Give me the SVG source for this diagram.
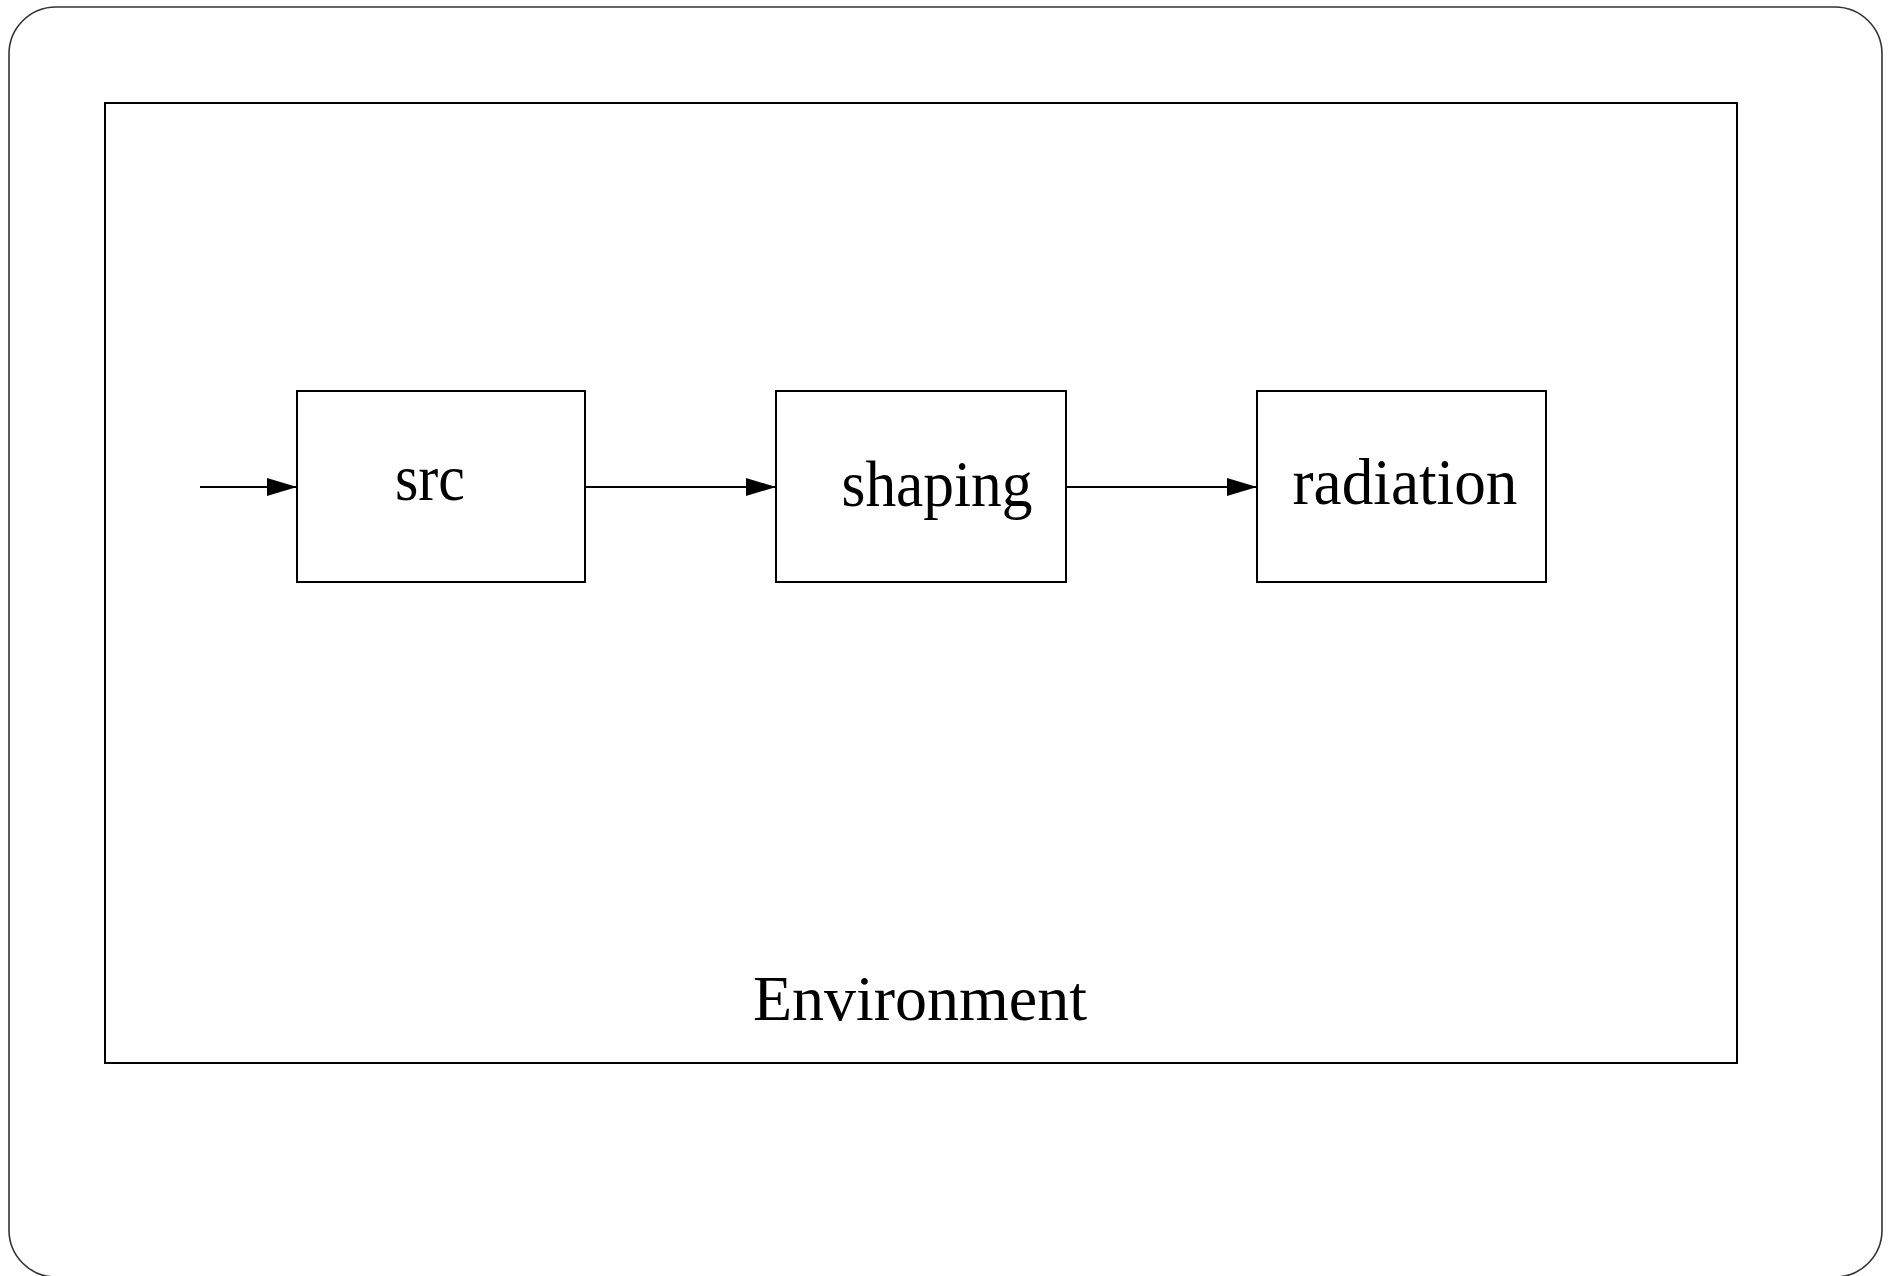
<svg xmlns="http://www.w3.org/2000/svg" width="1893" height="1276" viewBox="0 0 1893 1276">
  <style>
    .frame { fill: none; stroke: #333; stroke-width: 1.6; }
    .env { fill: none; stroke: #000; stroke-width: 2; }
    .box { fill: #fff; stroke: #000; stroke-width: 2; }
    .label { font-family: "Liberation Serif", "Times New Roman", serif; font-size: 66px; fill: #000; }
    .envlabel { font-family: "Liberation Serif", "Times New Roman", serif; font-size: 63px; fill: #000; }
    .wire { fill: none; stroke: #000; stroke-width: 2; }
  </style>
  <defs>
    <marker id="arrow" markerUnits="userSpaceOnUse" markerWidth="30" markerHeight="18" refX="30" refY="9" orient="auto">
      <path d="M0,0 L30,9 L0,18 Z" fill="#000"/>
    </marker>
  </defs>
  <rect width="1893" height="1276" fill="#fff"/>
  <!-- slide frame -->
  <rect class="frame" x="9" y="7" width="1873" height="1270" rx="47" ry="47"/>

  <!-- environment container -->
  <g id="environment">
    <rect class="env" x="105" y="103" width="1632" height="960"/>
    <text class="envlabel" x="920" y="1020" text-anchor="middle" textLength="334" lengthAdjust="spacingAndGlyphs">Environment</text>
  </g>

  <g id="src">
    <rect class="box" x="297" y="391" width="288" height="191"/>
    <text class="label" x="430" y="500" text-anchor="middle" textLength="70" lengthAdjust="spacingAndGlyphs">src</text>
  </g>

  <g id="shaping">
    <rect class="box" x="776" y="391" width="290" height="191"/>
    <text class="label" x="937" y="506" text-anchor="middle" textLength="191" lengthAdjust="spacingAndGlyphs">shaping</text>
  </g>

  <g id="radiation">
    <rect class="box" x="1257" y="391" width="289" height="191"/>
    <text class="label" x="1405" y="504" text-anchor="middle" textLength="225" lengthAdjust="spacingAndGlyphs">radiation</text>
  </g>

  <g id="connectors">
    <line class="wire" x1="200" y1="487" x2="297" y2="487" marker-end="url(#arrow)"/>
    <line class="wire" x1="585" y1="487" x2="776" y2="487" marker-end="url(#arrow)"/>
    <line class="wire" x1="1066" y1="487" x2="1257" y2="487" marker-end="url(#arrow)"/>
  </g>
</svg>
